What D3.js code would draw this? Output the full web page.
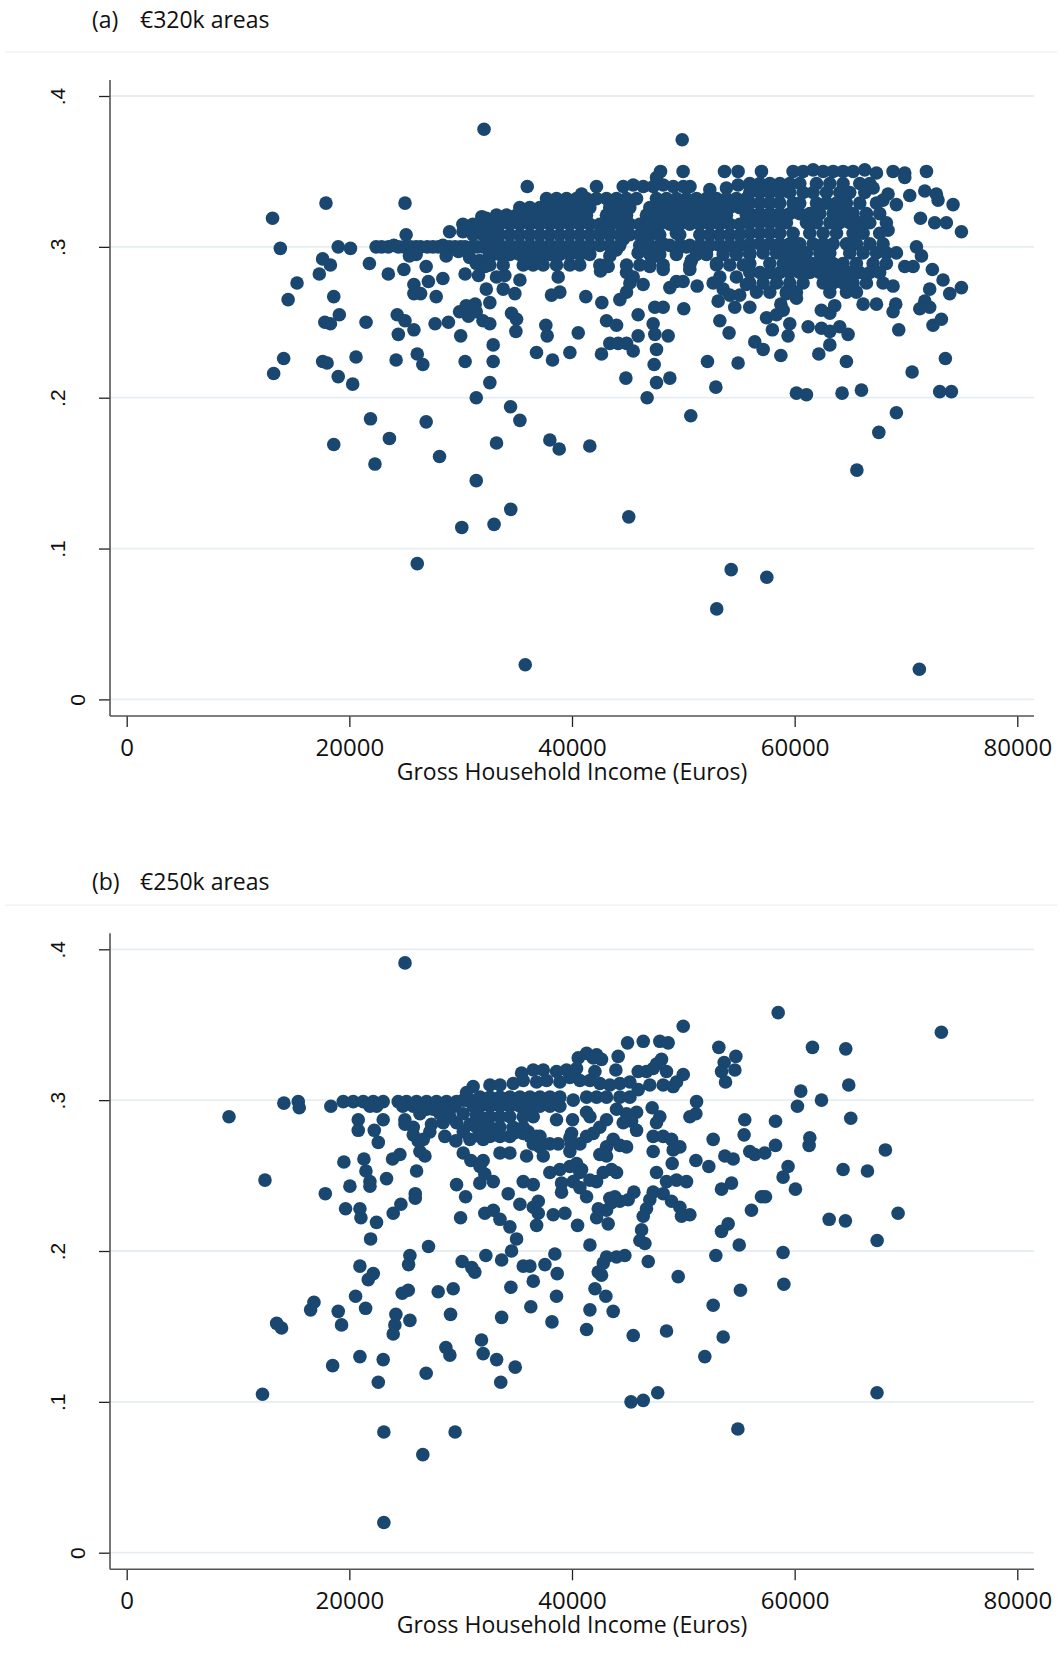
<!DOCTYPE html>
<html>
<head>
<meta charset="utf-8">
<script src="https://cdn.jsdelivr.net/npm/d3@7"></script>
<style>
  body { margin: 0; background: #fff; }
  svg { display: block; }
</style>
</head>
<body>
<div id="chart"></div>
<script>
// tick values and labels
var incomeTicks = [0, 20000, 40000, 60000, 80000];
var shareTicks = [0, 0.1, 0.2, 0.3, 0.4];
var panelTags = ["(a)", "(b)"];
var panelNames = ["€320k areas", "€250k areas"];
var xTitle = "Gross Household Income (Euros)";

// panel (a): [gross household income, share]
var areas320k = [
  [32100,.378],[49900,.371],
  // left sparse part
  [13100,.319],[17900,.329],[25000,.329],[13800,.299],[15300,.276],[14500,.265],[17600,.292],[18300,.288],[17300,.282],
  [19000,.300],[20100,.299],[18600,.267],[19100,.255],[17800,.250],[18300,.249],[21500,.250],[21800,.289],[23500,.282],
  [24900,.285],[25100,.308],[14100,.226],[13200,.216],[17600,.224],[18000,.223],[19000,.214],[20300,.209],[20600,.227],
  [21900,.186],[18600,.169],[23600,.173],[22300,.156],[26900,.184],[28100,.161],[24200,.225],[26100,.229],[26600,.222],
  [24400,.242],[24300,.255],[25000,.251],[25800,.245],[25800,.275],[25800,.269],[26400,.269],[27100,.277],[26900,.287],
  [28400,.279],[27800,.267],[27700,.249],[28900,.250],[30000,.241],[30400,.224],[31400,.200],[30400,.282],[31600,.281],
  [32300,.272],[29900,.257],[30700,.254],[31400,.257],[32000,.251],[31300,.262],[30500,.261],
  [31900,.320],[32300,.319],[29000,.310],[30200,.310],[31100,.310],[32000,.310],[30200,.315],[31100,.315],[32000,.314],
  [32900,.314],[31100,.308],[32000,.308],[32900,.305],
  [22400,.300],[22900,.300],[23500,.300],[24000,.301],[24400,.300],[24900,.300],[25500,.300],[26000,.300],[26400,.300],
  [27000,.300],[27500,.300],[28000,.300],[28400,.301],[29000,.300],[29500,.300],[30000,.300],[30400,.300],[31000,.300],
  [31500,.300],[32000,.300],[32500,.300],
  [25400,.294],[26000,.295],[28700,.294],[29800,.297],[30800,.293],[31700,.291],[32600,.293],[31400,.289],[32200,.287],
  // low outliers
  [26100,.090],[30100,.114],[31400,.145],[33000,.116],[34500,.126],[35800,.023],[45100,.121],[53000,.060],[54300,.086],
  [57500,.081],[71200,.020],
  // middle part
  [33220,.280],[33970,.281],[35320,.278],[33820,.272],[34870,.269],[32620,.263],[34570,.256],[35020,.252],[34960,.244],
  [32620,.249],[32920,.235],[32920,.224],[32620,.210],[36810,.230],[38250,.225],[37650,.248],[37770,.241],[38760,.280],
  [38910,.270],[38160,.268],[39810,.230],[40560,.243],[41240,.267],[42680,.263],[42560,.284],[43250,.287],[43100,.251],
  [44000,.248],[42650,.229],[43400,.236],[44150,.236],[44900,.236],[45500,.231],[45940,.241],[45940,.255],[44300,.265],
  [44900,.270],[45200,.276],[45940,.296],[44900,.283],[45500,.280],[46390,.275],[47440,.260],[48190,.260],[47290,.249],
  [47440,.242],[48640,.241],[47590,.232],[47380,.222],[47590,.210],[48790,.213],[46750,.200],[44840,.213],[50040,.259],
  [51240,.274],[48790,.273],[49380,.277],[49980,.277],[50580,.285],[50730,.291],[52080,.298],[52980,.289],[52680,.276],
  [53280,.280],[53580,.272],[53130,.264],[53280,.251],[54110,.243],[54620,.260],[52170,.224],[54920,.223],[52920,.207],
  [50670,.188],[34480,.194],[35320,.185],[33220,.170],[38010,.172],[38850,.166],[41600,.168],
  [48190,.285],[46990,.287],[47590,.294],[46690,.302],[48190,.302],[49380,.298],[50280,.300],[49380,.309],[47590,.309],
  [46390,.309],[44600,.305],[43990,.298],[43400,.294],[42500,.309],[43400,.314],[44600,.314],
  [54770,.280],[55670,.275],[54170,.268],[55070,.268],
  [47950,.350],[49980,.350],[53700,.350],[54920,.350],[47590,.346],[35980,.340],[42200,.340],
  [44600,.340],[45500,.341],[46400,.340],[47300,.340],[48200,.341],[49100,.340],[50000,.340],[50600,.340],[52380,.338],
  [53870,.339],[54920,.341],[55970,.341],
  [37710,.332],[38610,.332],[39510,.332],[40410,.332],[41300,.332],[42200,.332],[43100,.332],[44000,.332],[44900,.332],
  [45800,.332],[47590,.332],[48490,.332],[49390,.332],[50280,.332],[51180,.332],[52080,.332],[52980,.332],[53870,.332],
  [54770,.332],[55670,.332],[40860,.335],
  [35310,.326],[36210,.326],[37110,.326],[38010,.326],[38900,.326],[39800,.326],[40700,.326],[41600,.326],[43390,.326],
  [44290,.326],[45190,.326],[46990,.326],[47880,.326],[48780,.326],[49680,.326],[50580,.326],[51480,.326],[52380,.326],
  [53270,.326],[54170,.326],[55070,.326],
  [33220,.321],[34120,.321],[35020,.321],[35920,.321],[36810,.321],[37710,.321],[38610,.321],[39510,.321],[40410,.321],
  [41300,.321],[43100,.321],[44000,.321],[44900,.321],[46690,.321],[47590,.321],[48490,.321],[49390,.321],[50280,.321],
  [51180,.321],[52080,.321],[52980,.321],[53870,.321],[55670,.321],
  [32620,.315],[33520,.315],[34420,.315],[35310,.315],[36210,.315],[37110,.315],[38010,.315],[38900,.315],[39800,.315],
  [40700,.315],[41600,.315],[42500,.315],[43390,.315],[44290,.315],[45190,.315],[46090,.315],[46990,.315],[47880,.315],
  [48780,.315],[49680,.315],[50580,.315],[51480,.315],[52380,.315],[53270,.315],[54170,.315],[55070,.315],
  [32620,.308],[33520,.308],[34420,.308],[35310,.308],[36210,.308],[37110,.308],[38010,.308],[38900,.308],[39800,.308],
  [40700,.308],[41600,.308],[42500,.308],[43390,.308],[44290,.308],[45190,.308],[46090,.308],[46990,.308],[47880,.308],
  [49680,.308],[51480,.308],[52380,.308],[53270,.308],[54170,.308],[55070,.308],
  [32620,.301],[33520,.301],[34420,.301],[35310,.301],[36210,.301],[37110,.301],[38010,.301],[38900,.301],[39800,.301],
  [40700,.301],[41600,.301],[42500,.301],[43390,.301],[44290,.301],[46090,.301],[46990,.301],[47880,.301],[48780,.301],
  [49680,.301],[50580,.301],[51480,.301],[52380,.301],[53270,.301],[54170,.301],[55070,.301],
  [32620,.295],[33520,.295],[34420,.295],[35310,.295],[36210,.295],[37110,.295],[38010,.295],[38900,.295],[39800,.295],
  [40700,.295],[41600,.295],[46990,.295],[47880,.295],[49380,.295],[51180,.295],[52080,.295],[53580,.295],[54770,.295],
  [55970,.295],
  [32620,.288],[33820,.288],[35620,.288],[36510,.288],[37410,.288],[38610,.288],[39810,.288],[40700,.288],[42500,.288],
  [43100,.288],[44900,.288],[46090,.288],[46990,.288],[48190,.288],[50580,.288],[52980,.288],[54170,.288],[55370,.288],
  // right part
  [57020,.350],[59860,.350],[60760,.350],[61660,.351],[62560,.350],[63460,.350],[64350,.350],[65250,.350],[66300,.351],
  [67350,.349],[68840,.350],[69890,.349],[71840,.350],
  [55970,.342],[56870,.342],[57770,.342],[58670,.342],[59560,.342],[60460,.342],[61960,.342],[63160,.342],[64350,.342],
  [65850,.342],[66750,.342],[69890,.346],
  [55970,.336],[56870,.336],[57770,.336],[58670,.336],[59560,.336],[60760,.336],[61660,.336],[62860,.336],[64050,.336],
  [64950,.336],[66300,.336],[67050,.339],[68390,.335],[70340,.334],[71690,.337],[72730,.335],
  [55970,.329],[56870,.329],[57770,.329],[58670,.329],[59860,.329],[60460,.329],[61960,.329],[62860,.329],[63760,.329],
  [64650,.329],[65850,.329],[67350,.329],[67940,.331],[69140,.328],[72880,.331],[74230,.328],
  [55970,.322],[56870,.322],[57770,.322],[58670,.322],[59560,.322],[60460,.322],[61360,.322],[62260,.322],[63460,.322],
  [64350,.322],[65250,.322],[66450,.322],[67640,.322],
  [55970,.316],[56870,.316],[57770,.316],[58670,.316],[59260,.316],[61060,.316],[61960,.316],[63160,.316],[64050,.316],
  [64950,.316],[65850,.316],[66750,.316],[68240,.316],[71300,.319],[72580,.316],[73630,.316],
  [55970,.309],[56870,.309],[57770,.309],[58670,.309],[59860,.309],[61360,.309],[62560,.309],[63760,.309],[65250,.309],
  [66150,.309],[67640,.309],[68390,.311],[74980,.310],
  [55970,.302],[56870,.302],[57770,.302],[58670,.302],[59560,.302],[60460,.302],[61660,.302],[62560,.302],[63460,.302],
  [64650,.302],[65550,.302],[66750,.302],[67940,.302],[70940,.300],
  [55970,.296],[57170,.296],[58370,.296],[59260,.296],[60160,.296],[61060,.296],[62260,.296],[63160,.296],[64950,.296],
  [66150,.296],[67350,.296],[68240,.296],[69140,.296],[71390,.294],
  [55970,.289],[57770,.289],[58970,.289],[59860,.289],[60760,.289],[61660,.289],[62560,.289],[63460,.289],[64350,.289],
  [65550,.289],[67050,.289],[68240,.289],[69890,.287],[70640,.287],[72370,.285],
  [55970,.283],[56870,.283],[57770,.283],[58670,.283],[59560,.283],[60460,.283],[61360,.283],[62260,.283],[63160,.283],
  [64050,.283],[64950,.283],[65850,.283],[66750,.283],[67640,.283],
  [55970,.276],[57170,.276],[58370,.276],[59560,.276],[60760,.276],[62560,.276],[63460,.276],[64350,.276],[65250,.276],
  [66450,.276],[67940,.276],[68840,.274],[73330,.278],[74980,.273],[72130,.272],[73930,.269],
  [56570,.270],[57770,.270],[59260,.270],[60160,.270],[63160,.270],[64650,.270],[65550,.270],
  [55970,.260],[58760,.262],[60160,.266],[59260,.269],[66150,.262],[67350,.262],[69080,.262],[68840,.257],[69350,.245],
  [71690,.264],[71240,.259],[72130,.260],[72430,.248],[73180,.252],[62400,.258],[63600,.261],[63160,.256],[58000,.245],
  [57470,.253],[58370,.255],[59560,.249],[59410,.241],[58970,.258],[61210,.247],[62410,.246],[63160,.244],[64050,.247],
  [64800,.242],[63160,.235],[56420,.237],[57170,.232],[58760,.228],[62170,.229],[64650,.224],[60160,.203],[61060,.202],
  [64260,.203],[66000,.205],[73030,.204],[74080,.204],[70550,.217],[73540,.226],[69140,.190],[67560,.177],[65590,.152]
];

// panel (b)
var areas250k = [
  [25000,.391],[12200,.105],[23100,.020],[23100,.080],[26600,.065],[29500,.080],[18500,.124],[22600,.113],[26900,.119],
  [33600,.113],[34900,.123],[45300,.100],[46400,.101],[47700,.106],[54900,.082],[67400,.106],[36300,.163],[38200,.153],
  // left part
  [9190,.289],[14120,.298],[15410,.299],[15500,.295],[12420,.247],[18340,.296],[19450,.299],[20350,.299],[21250,.299],
  [22150,.299],[23040,.299],[21850,.296],[22450,.296],[24390,.299],[25140,.299],[26040,.299],[26940,.299],[27830,.299],
  [28730,.299],[29630,.299],[30530,.300],[31420,.300],[24800,.296],[25740,.296],[26940,.294],[28430,.295],[29480,.296],
  [31120,.309],[30530,.305],[30230,.300],[31120,.296],[31720,.296],
  [20800,.287],[20800,.280],[22240,.280],[23040,.287],[22600,.272],[24990,.287],[25000,.284],[25740,.282],[25740,.277],
  [26190,.273],[26340,.266],[26790,.263],[27380,.284],[27230,.279],[28580,.276],[29570,.273],[30230,.279],[30830,.284],
  [31720,.285],[31720,.278],[30230,.265],[30920,.260],[32020,.260],
  [19510,.259],[21310,.261],[21490,.253],[21850,.246],[21850,.243],[23340,.248],[23880,.261],[24540,.264],[26040,.253],
  [25920,.238],[25920,.235],[20050,.243],[17840,.238],[19660,.228],[20950,.228],[21040,.222],[22440,.219],[21910,.208],
  [23940,.225],[24630,.231],[29630,.244],[30440,.236],[29990,.222],[31720,.245],[32170,.251],[32170,.225],[27110,.203],
  [25440,.197],[25320,.191],[20950,.190],[22150,.185],[21700,.181],[30130,.193],[31270,.186],[31000,.189],[32260,.197],
  [20560,.170],[21460,.162],[19000,.160],[19300,.151],[16820,.166],[16520,.161],[13470,.152],[13910,.149],[24750,.172],
  [25290,.174],[27980,.173],[29330,.175],[29090,.158],[24180,.158],[24090,.151],[23940,.145],[25440,.154],[28670,.136],
  [29030,.131],[31870,.141],[32020,.132],[20950,.130],[23040,.128],
  [28130,.291],[29030,.289],[29630,.285],[28430,.285],[26340,.291],[27530,.294],[30230,.291],[31420,.290],[31420,.282],
  [30830,.274],[32020,.274],[26640,.274],
  // middle part
  [49990,.349],[44990,.338],[46400,.339],[47890,.339],[48640,.338],[53190,.335],[54720,.329],[53670,.325],[53430,.319],
  [54630,.320],[53790,.312],
  [40560,.328],[41310,.331],[42210,.330],[42650,.327],[41910,.328],[44150,.329],[43940,.320],[42060,.319],
  [35470,.318],[36520,.320],[37420,.320],[38610,.319],[39510,.320],[40410,.321],
  [32630,.310],[33530,.310],[34720,.311],[35620,.313],[36820,.312],[37720,.313],[38910,.312],[39810,.315],[40710,.313],
  [41610,.313],[42510,.311],[43400,.310],[44300,.311],[45200,.312],[45950,.307],
  [45950,.319],[46690,.319],[47290,.321],[48490,.319],[49390,.312],[49990,.317],[48040,.327],[47590,.324],[46990,.310],
  [48190,.310],[49090,.309],
  [31730,.302],[32630,.302],[33530,.302],[34420,.302],[35320,.302],[36220,.302],[37120,.302],[38020,.302],[38910,.302],
  [31730,.296],[32630,.296],[33530,.296],[34420,.296],[35320,.296],[36220,.296],[37120,.296],[38020,.296],[38910,.296],
  [31730,.289],[32630,.289],[33530,.289],[34420,.289],[35620,.289],[36520,.289],
  [31730,.282],[32630,.282],[33530,.282],[34720,.282],[35620,.282],
  [31730,.276],[32630,.276],[33530,.276],[34420,.276],[36220,.276],[37120,.276],
  [38610,.287],[40050,.287],[41310,.292],[41610,.289],
  [40110,.300],[41310,.302],[42210,.302],[43100,.302],[44300,.302],[45200,.302],
  [44000,.294],[44900,.291],[45800,.292],[45350,.286],[45800,.280],[44600,.285],
  [47200,.295],[47890,.289],[47590,.285],
  [43100,.287],[42500,.282],[41910,.278],[41310,.276],[40710,.271],
  [39960,.278],[39810,.266],[39960,.271],
  [43700,.274],[44300,.270],[44900,.269],[43100,.269],[42500,.264],[43100,.263],
  [47290,.276],[48190,.276],[48940,.274],[49690,.269],[49090,.267],[47290,.266],
  [51130,.260],[52290,.256],[49000,.258],[47590,.252],[48490,.246],[49390,.247],[50290,.246],
  [48190,.238],[48940,.233],[49690,.229],[50590,.224],[49840,.223],
  [47290,.239],[46990,.234],[46690,.228],[46400,.223],[46250,.214],[46100,.207],[46550,.205],
  [45560,.239],[45050,.234],[44300,.233],[43550,.232],[43100,.227],[42360,.228],[42210,.222],[43250,.218],[43400,.235],
  [43850,.236],
  [44000,.252],[43550,.254],[42810,.252],[42210,.246],[41610,.247],[40860,.254],[40410,.258],[40710,.252],[39810,.256],
  [38910,.254],[38010,.252],[39060,.245],[39060,.239],[40110,.246],[40710,.242],[41310,.236],
  [35920,.263],[37420,.263],[37120,.269],[36520,.271],[38010,.271],[38760,.271],[39810,.275],
  [35620,.278],[34720,.278],[36070,.279],[36820,.276],
  [33530,.265],[34420,.265],[31730,.256],[32930,.246],
  [35620,.246],[36520,.244],[34270,.238],
  [35320,.231],[36520,.229],[36970,.233],[36970,.225],[36820,.217],
  [38310,.224],[39360,.225],[38460,.198],
  [32930,.227],[33530,.221],[34420,.216],[35020,.208],[34570,.200],
  [33680,.194],[35620,.190],[36220,.190],[36520,.180],[37570,.191],[38670,.185],[38610,.170],
  [34510,.176],[40500,.217],[41610,.204],
  [43100,.196],[44000,.196],[44750,.197],[42810,.192],[42360,.186],[42650,.184],[42060,.175],[43040,.170],[43700,.160],
  [41610,.161],
  [46850,.193],[49540,.183],[52680,.164],[55130,.174],[41310,.148],[45500,.144],[48490,.147],[53580,.143],[51930,.130],
  [33680,.156],[33230,.128],
  [52920,.197],[55020,.204],[53430,.213],[54030,.218],[53430,.241],[54330,.245],[52680,.274],[51130,.291],[50590,.289],
  [51190,.299],[53730,.263],[54480,.261],[55520,.287],[55460,.277],[55970,.266],[56120,.227],
  // right part
  [58520,.358],[73180,.345],[61600,.335],[64590,.334],[64860,.310],[60550,.306],[62410,.300],[60250,.296],[65040,.288],
  [58280,.286],[61360,.275],[61300,.270],[56420,.264],[57320,.265],[58280,.270],[68150,.267],[59410,.256],[58960,.249],
  [60070,.241],[64350,.254],[66540,.253],[57020,.236],[57380,.236],[63100,.221],[64560,.220],[69290,.225],[67410,.207],
  [58960,.199],[59030,.178]
];

var width = 1060, height = 1666;
var panelShift = 853.3;
var textFont = "'Open Sans', Lato, sans-serif";

var svg = d3.select("#chart").append("svg")
    .attr("width", width)
    .attr("height", height)
    .style("background", "#fff");

var x = d3.scaleLinear().domain([0, 80000]).range([126.7, 1017.3]);

var fmtShare = function(d) {
  return d === 0 ? "0" : d3.format(".1f")(d).replace(/^0/, "");
};

function drawPanel(i, data) {
  var top = i * panelShift;
  var titleBase = i === 0 ? 28 : 890;
  var y = d3.scaleLinear().domain([0, 0.4]).range([699.4 + top, 96 + top]);
  var g = svg.append("g");

  // panel heading
  g.append("text")
      .attr("x", 92).attr("y", titleBase)
      .attr("font-family", textFont)
      .attr("font-size", 23).attr("fill", "#111")
      .text(panelTags[i]);
  g.append("text")
      .attr("x", 140).attr("y", titleBase)
      .attr("font-family", textFont)
      .attr("font-size", 23).attr("fill", "#111")
      .text(panelNames[i]);

  g.append("line")
      .attr("x1", 5).attr("x2", 1057)
      .attr("y1", 52 + top).attr("y2", 52 + top)
      .attr("stroke", "#eef3f5").attr("stroke-width", 1.5);

  // gridlines
  g.selectAll(".grid")
    .data(shareTicks)
    .enter().append("line")
      .attr("class", "grid")
      .attr("x1", 110).attr("x2", 1034)
      .attr("y1", function(d) { return y(d); })
      .attr("y2", function(d) { return y(d); })
      .attr("stroke", "#e6eef1").attr("stroke-width", 1.8);

  // y axis
  var yAxis = g.append("g")
      .attr("transform", "translate(110,0)")
      .call(d3.axisLeft(y).tickValues(shareTicks).tickSize(11).tickSizeOuter(0).tickFormat(fmtShare));
  yAxis.select(".domain").remove();
  yAxis.selectAll(".tick line").attr("stroke", "#222").attr("stroke-width", 1.3);
  yAxis.selectAll(".tick text")
      .attr("x", null)
      .attr("dy", "0.36em")
      .attr("text-anchor", "middle")
      .attr("transform", function(d) {
        return "translate(" + (d === 0 ? -32.5 : -53) + ",0) rotate(-90)";
      })
      .attr("font-family", "'Liberation Sans', Arial, sans-serif")
      .attr("font-size", 21)
      .attr("fill", "#111");

  // x axis
  var xAxis = g.append("g")
      .attr("transform", "translate(0," + (716 + top) + ")")
      .call(d3.axisBottom(x).tickValues(incomeTicks).tickSize(11).tickSizeOuter(0).tickFormat(d3.format("d")));
  xAxis.select(".domain").remove();
  xAxis.selectAll(".tick line").attr("stroke", "#222").attr("stroke-width", 1.3);
  xAxis.selectAll(".tick text")
      .attr("y", 40).attr("dy", null)
      .attr("font-family", textFont)
      .attr("font-size", 24)
      .attr("fill", "#111");

  // axis lines
  g.append("line")
      .attr("x1", 110).attr("x2", 110)
      .attr("y1", 80 + top).attr("y2", 716 + top)
      .attr("stroke", "#555").attr("stroke-width", 1.6);
  g.append("line")
      .attr("x1", 110).attr("x2", 1034)
      .attr("y1", 716 + top).attr("y2", 716 + top)
      .attr("stroke", "#555").attr("stroke-width", 1.6);

  g.append("text")
      .attr("x", 572).attr("y", 780 + top)
      .attr("text-anchor", "middle")
      .attr("font-family", textFont)
      .attr("font-size", 23).attr("fill", "#111")
      .text(xTitle);

  // markers
  g.append("g").selectAll("circle")
    .data(data)
    .enter().append("circle")
      .attr("cx", function(d) { return x(d[0]); })
      .attr("cy", function(d) { return y(d[1]); })
      .attr("r", 6.8)
      .attr("fill", "#1a476f");
}

drawPanel(0, areas320k);
drawPanel(1, areas250k);
</script>
</body>
</html>
